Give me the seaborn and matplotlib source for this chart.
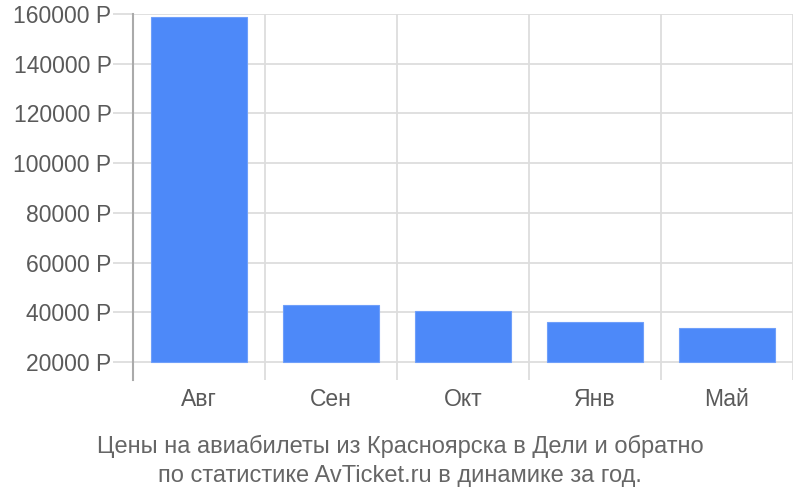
import matplotlib
matplotlib.use("Agg")
import matplotlib.pyplot as plt
import seaborn as sns
import numpy as np
import pandas as pd
from matplotlib.ticker import FixedLocator, FuncFormatter

months = ["Авг", "Сен", "Окт", "Янв", "Май"]
prices = [158800, 42900, 40500, 36000, 33800]
y_ticks = [20000, 40000, 60000, 80000, 100000, 120000, 140000, 160000]
base = 20000
caption = "Цены на авиабилеты из Красноярска в Дели и обратно\nпо статистике AvTicket.ru в динамике за год."

sns.set_theme(style="white")
plt.rcParams["font.family"] = ["Liberation Sans", "DejaVu Sans"]

df = pd.DataFrame({"month": months, "height": np.array(prices) - base})

fig = plt.figure(figsize=(8, 5), dpi=100)
ax = fig.add_axes([0.16625, 0.24, 0.825, 0.732])

sns.barplot(data=df, x="month", y="height", bottom=base, color="#4d89f9",
            saturation=1, width=0.72, ax=ax, zorder=3, edgecolor="#6f9ffa", linewidth=0.8)

ax.set_xlim(-0.5, 4.5)
ax.set_ylim(12760, 160000)
ax.yaxis.set_major_locator(FixedLocator(y_ticks))
ax.yaxis.set_major_formatter(FuncFormatter(lambda v, p: f"{int(v)} Р"))
ax.xaxis.set_minor_locator(FixedLocator([0.5, 1.5, 2.5, 3.5, 4.5]))

ax.grid(axis="y", which="major", color="#dddddd", linewidth=1.3, zorder=0)
ax.grid(axis="x", which="minor", color="#dddddd", linewidth=1.3, zorder=0)
ax.set_axisbelow(True)

for s in ["top", "right", "bottom"]:
    ax.spines[s].set_visible(False)
ax.spines["left"].set_color("#aaaaaa")
ax.spines["left"].set_linewidth(1.5)

ax.tick_params(axis="y", which="major", length=14.4, width=1.3, color="#dddddd",
               labelsize=16.5, labelcolor="#5a5a5a", pad=1, left=True)
ax.tick_params(axis="x", which="both", length=0, labelsize=16.5, labelcolor="#5a5a5a", pad=6)
ax.set_xlabel("")
ax.set_ylabel("")

fig.text(0.5, 0.078, caption, ha="center", va="center", fontsize=17, color="#666666",
         linespacing=1.38)

fig.savefig("out.png", dpi=100)
